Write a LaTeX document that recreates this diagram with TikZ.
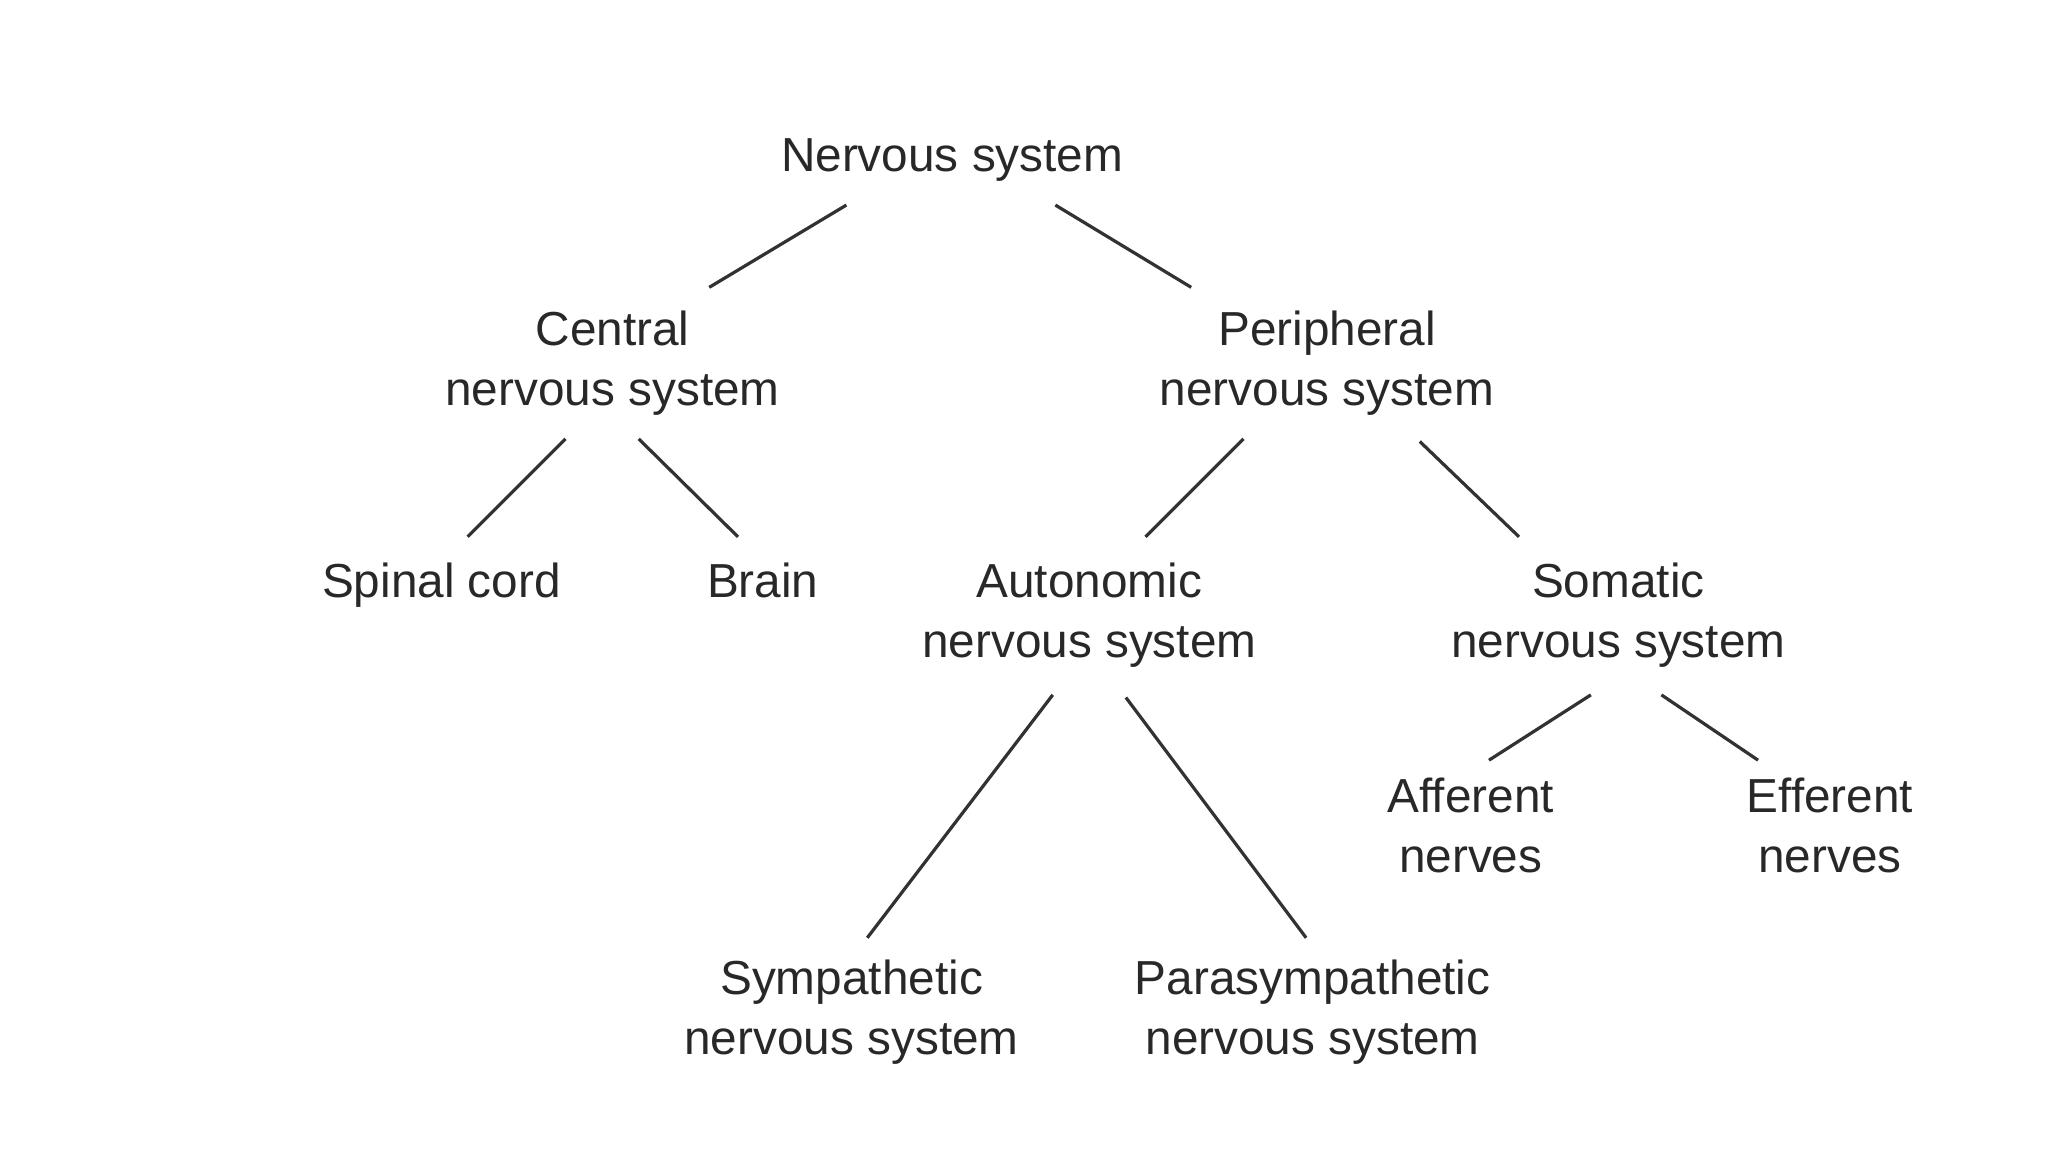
\documentclass[tikz,border=0pt]{standalone}
\usepackage{fontspec}
\setmainfont{Liberation Sans}
\usepackage{xcolor}
\definecolor{nsInk} {RGB}{ 40,  40,  40}
\definecolor{nsLine}{RGB}{ 50,  50,  50}
\usepackage{tikz}
\usetikzlibrary{positioning}

\begin{document}
\begin{tikzpicture}[
  term/.style ={align=center, font=\fontsize{10.4}{13}\selectfont,
                text=nsInk, inner sep=0pt},
  word/.style ={term, text depth=0.5ex},
  link/.style ={draw=nsLine, line width=0.7pt},
]
  \useasboundingbox (0,0) rectangle (15.68,8.82);

  % Root and first split
  \node[word] (ns)   at ( 7.29, 7.59) {Nervous system};
  \node[term] (cns)  at ( 4.69, 6.04) {Central\\nervous system};
  \node[term] (pns)  at (10.16, 6.04) {Peripheral\\nervous system};

  % Second level
  \node[word] (sc)   at ( 3.38, 4.33) {Spinal cord};
  \node[word] (br)   at ( 5.84, 4.33) {Brain};
  \node[term] (ans)  at ( 8.34, 4.11) {Autonomic\\nervous system};
  \node[term] (sns)  at (12.39, 4.11) {Somatic\\nervous system};

  % Leaves
  \node[term] (aff)  at (11.26, 2.50) {Afferent\\nerves};
  \node[term] (eff)  at (14.01, 2.50) {Efferent\\nerves};
  \node[term] (sym)  at ( 6.52, 1.07) {Sympathetic\\nervous system};
  \node[term] (psym) at (10.05, 1.07) {Parasympathetic\\nervous system};

  % Plain branches, no tips
  \draw[link] ([shift={(-0.81,-0.34)}]ns.center)  -- ([shift={( 0.74, 0.58)}]cns.center);
  \draw[link] ([shift={( 0.79,-0.34)}]ns.center)  -- ([shift={(-1.04, 0.58)}]pns.center);
  \draw[link] ([shift={(-0.36,-0.58)}]cns.center) -- ([shift={( 0.20, 0.38)}]sc.center);
  \draw[link] ([shift={( 0.20,-0.58)}]cns.center) -- ([shift={(-0.19, 0.38)}]br.center);
  \draw[link] ([shift={(-0.64,-0.58)}]pns.center) -- ([shift={( 0.43, 0.60)}]ans.center);
  \draw[link] ([shift={( 0.71,-0.60)}]pns.center) -- ([shift={(-0.76, 0.60)}]sns.center);
  \draw[link] ([shift={(-0.28,-0.61)}]ans.center) -- ([shift={( 0.12, 0.57)}]sym.center);
  \draw[link] ([shift={( 0.28,-0.63)}]ans.center) -- ([shift={(-0.05, 0.57)}]psym.center);
  \draw[link] ([shift={(-0.21,-0.61)}]sns.center) -- ([shift={( 0.14, 0.50)}]aff.center);
  \draw[link] ([shift={( 0.33,-0.61)}]sns.center) -- ([shift={(-0.55, 0.50)}]eff.center);

\end{tikzpicture}
\end{document}
